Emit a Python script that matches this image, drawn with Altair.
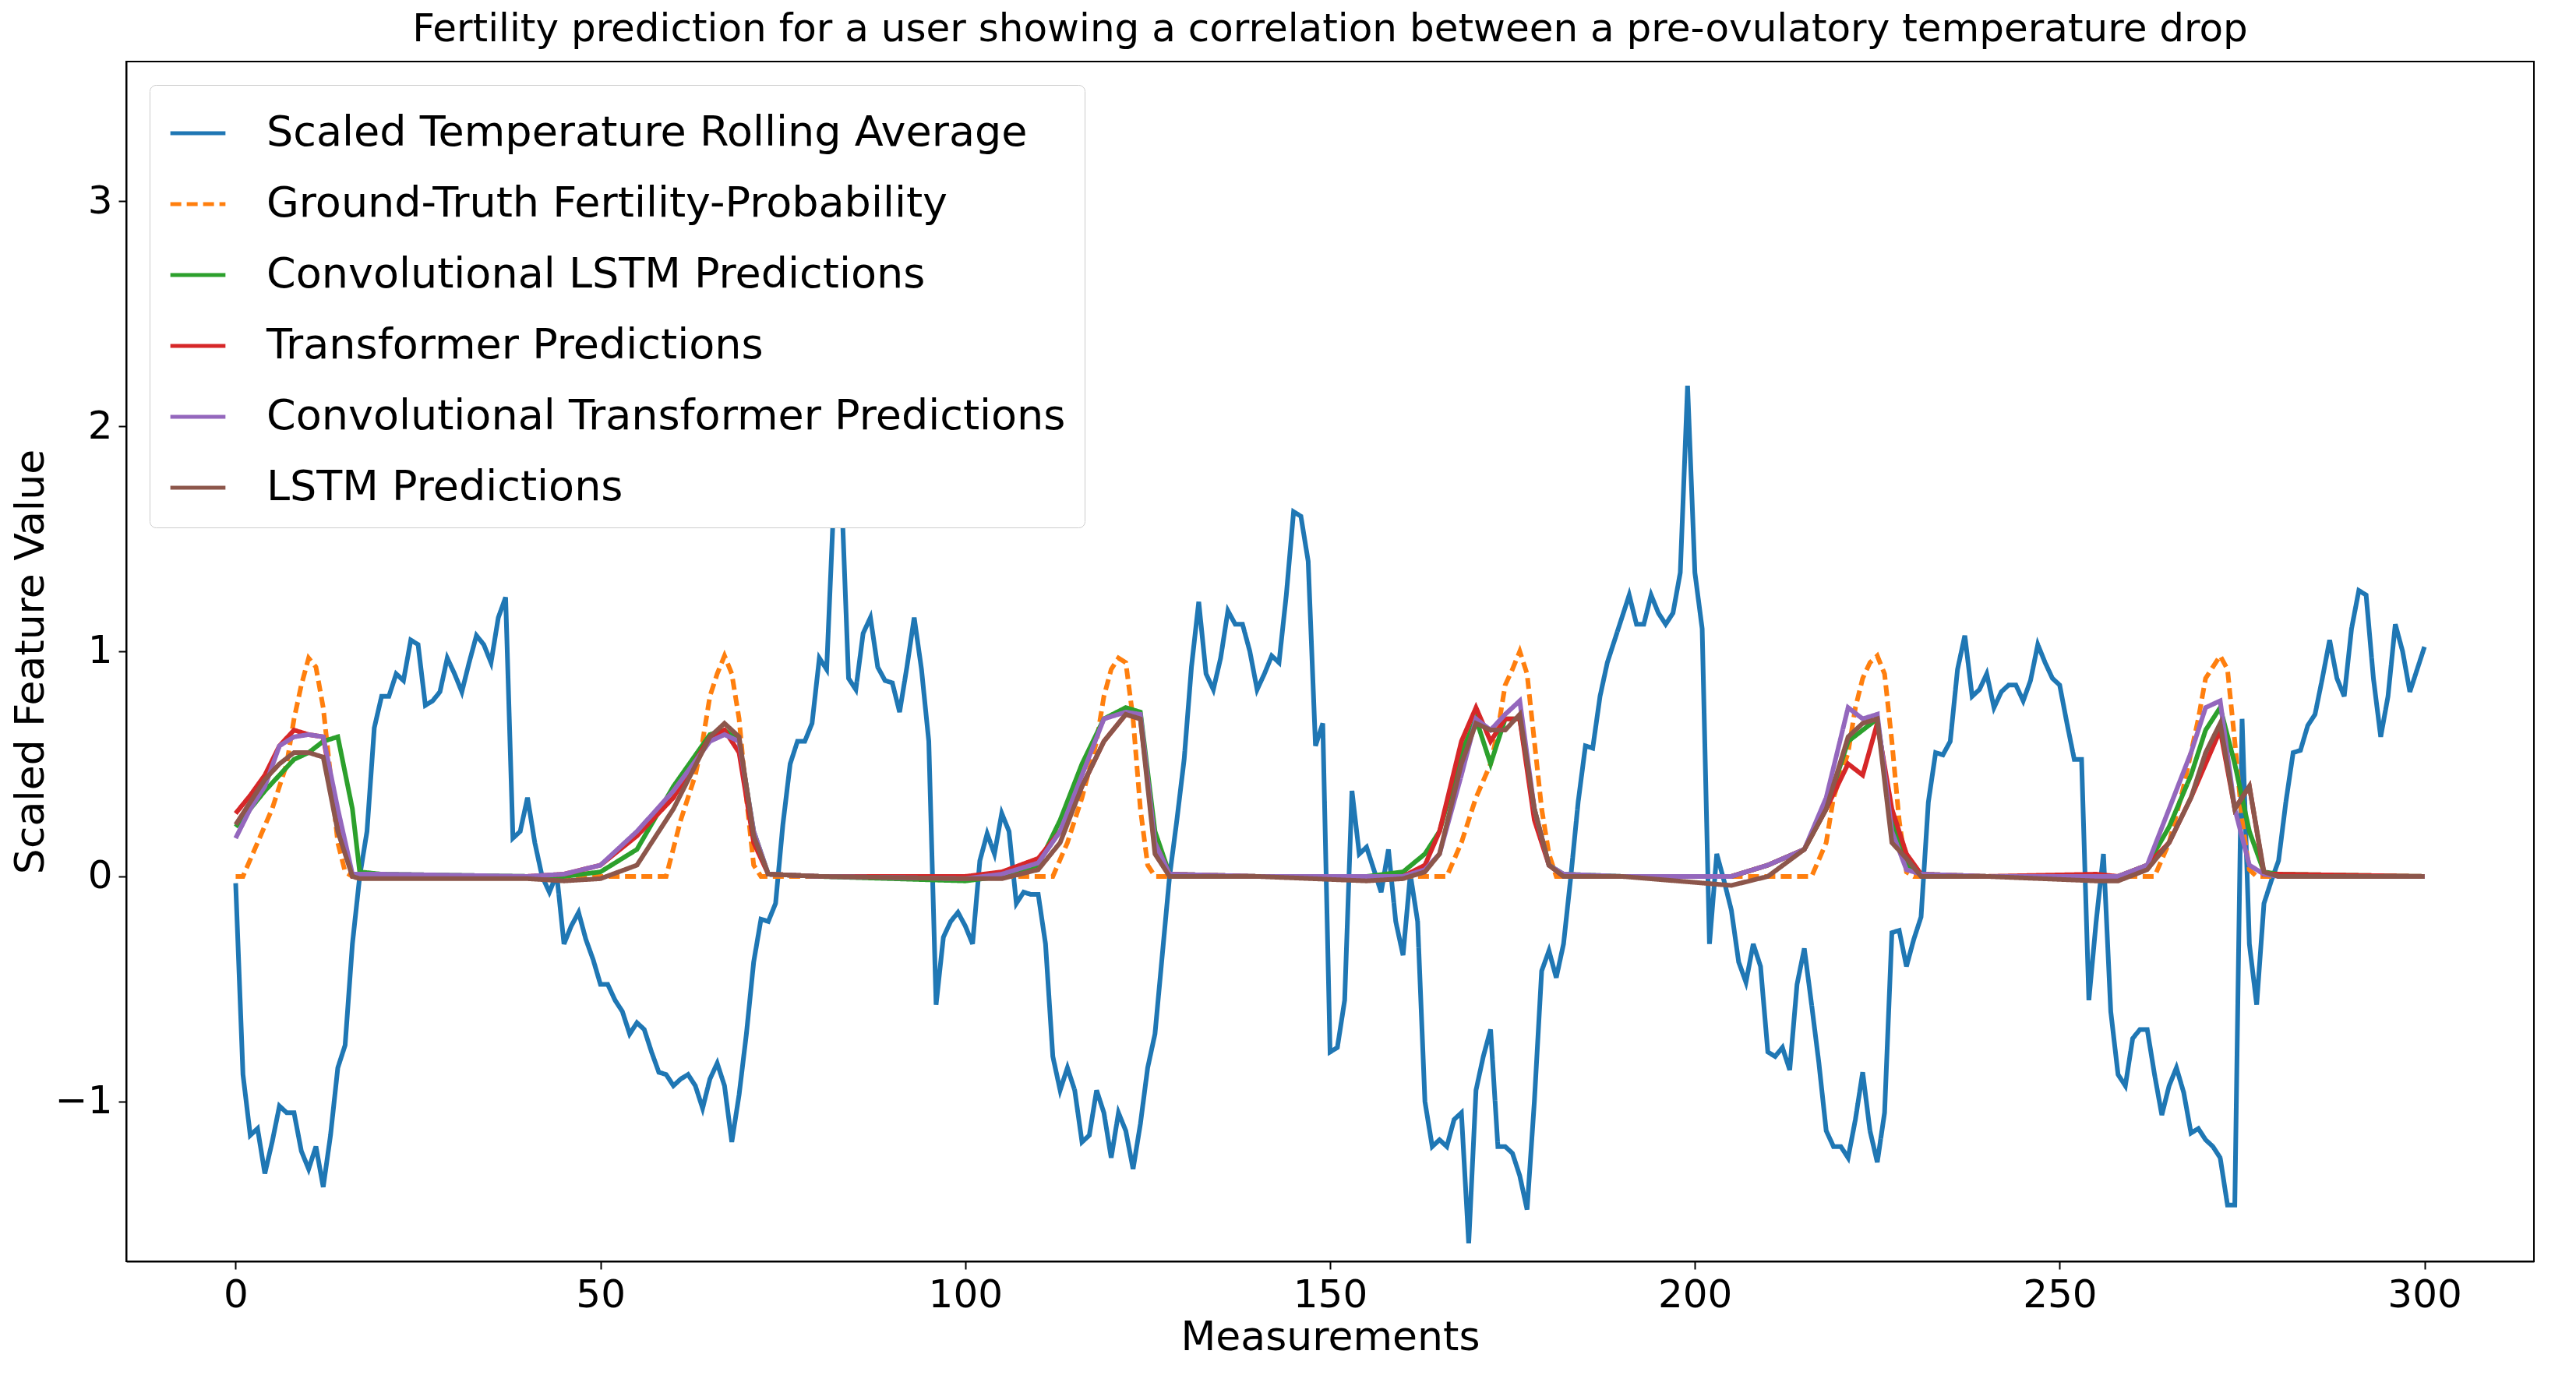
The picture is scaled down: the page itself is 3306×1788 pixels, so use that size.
import altair as alt
import pandas as pd

blue = [-0.03,-0.88,-1.15,-1.12,-1.32,-1.18,-1.02,-1.05,-1.05,-1.22,-1.3,-1.2,-1.38,-1.15,-0.85,-0.75,-0.3,0.0,0.2,0.66,
0.8,0.8,0.9,0.87,1.05,1.03,0.76,0.78,0.82,0.97,0.9,0.82,0.95,1.07,1.03,0.95,1.15,1.24,0.17,0.2,
0.35,0.15,0.0,-0.07,0.01,-0.3,-0.22,-0.16,-0.28,-0.37,-0.48,-0.48,-0.55,-0.6,-0.7,-0.65,-0.68,-0.78,-0.87,-0.88,
-0.93,-0.9,-0.88,-0.93,-1.03,-0.9,-0.83,-0.93,-1.18,-0.97,-0.7,-0.38,-0.19,-0.2,-0.12,0.23,0.5,0.6,0.6,0.68,
0.97,0.92,1.68,1.74,0.88,0.83,1.08,1.15,0.93,0.87,0.86,0.73,0.93,1.15,0.92,0.6,-0.57,-0.27,-0.2,-0.16,
-0.22,-0.3,0.07,0.19,0.1,0.28,0.2,-0.12,-0.07,-0.08,-0.08,-0.3,-0.8,-0.95,-0.85,-0.95,-1.18,-1.15,-0.95,-1.05,
-1.25,-1.05,-1.13,-1.3,-1.1,-0.85,-0.7,-0.35,0.0,0.25,0.52,0.93,1.22,0.9,0.83,0.97,1.18,1.12,1.12,1.0,
0.83,0.9,0.98,0.95,1.25,1.62,1.6,1.4,0.58,0.68,-0.78,-0.76,-0.55,0.38,0.1,0.13,0.03,-0.07,0.12,-0.2,
-0.35,0.01,-0.2,-1.0,-1.2,-1.17,-1.2,-1.08,-1.05,-1.63,-0.95,-0.8,-0.68,-1.2,-1.2,-1.23,-1.33,-1.48,-1.0,-0.42,
-0.33,-0.45,-0.3,0.0,0.33,0.58,0.57,0.8,0.95,1.05,1.15,1.25,1.12,1.12,1.25,1.17,1.12,1.17,1.35,2.18,
1.35,1.1,-0.3,0.1,-0.02,-0.15,-0.38,-0.47,-0.3,-0.4,-0.78,-0.8,-0.76,-0.86,-0.48,-0.32,-0.57,-0.83,-1.13,-1.2,
-1.2,-1.25,-1.08,-0.87,-1.13,-1.27,-1.05,-0.25,-0.24,-0.4,-0.28,-0.18,0.33,0.55,0.54,0.6,0.92,1.07,0.8,0.83,
0.9,0.75,0.82,0.85,0.85,0.78,0.87,1.03,0.95,0.88,0.85,0.68,0.52,0.52,-0.55,-0.2,0.1,-0.6,-0.88,-0.93,
-0.72,-0.68,-0.68,-0.88,-1.06,-0.93,-0.85,-0.96,-1.14,-1.12,-1.17,-1.2,-1.25,-1.46,-1.46,0.7,-0.3,-0.57,-0.12,-0.02,
0.07,0.33,0.55,0.56,0.67,0.72,0.88,1.05,0.88,0.8,1.1,1.27,1.25,0.88,0.62,0.8,1.12,1.0,0.82,0.92,1.02]
blue_t = list(range(len(blue)))

gt_t = [0,1,3,5,7,8,9,10,11,12,13,14,15,16,
        58,59,61,63,64,65,66,67,68,69,70,71,72,
        112,114,116,118,119,120,121,122,123,124,125,126,
        165,166,168,170,172,173,174,175,176,177,178,179,180,181,
        216,218,219,221,222,223,224,225,226,227,228,229,230,
        263,265,267,268,269,270,271,272,273,274,275,276,277,300]
gt_v = [0,0,0.15,0.3,0.5,0.7,0.85,0.97,0.93,0.75,0.45,0.15,0.02,0,
        0,0,0.25,0.45,0.6,0.8,0.9,0.98,0.9,0.7,0.35,0.05,0,
        0,0.15,0.35,0.6,0.8,0.92,0.97,0.95,0.7,0.3,0.05,0,
        0,0,0.15,0.35,0.5,0.65,0.85,0.92,1.0,0.9,0.6,0.3,0.1,0,
        0,0.15,0.35,0.55,0.75,0.88,0.95,0.98,0.9,0.6,0.25,0.02,0,
        0,0.15,0.4,0.55,0.7,0.88,0.93,0.98,0.92,0.6,0.25,0.03,0,0]

pt = [0,2,4,6,8,10,12,14,16,17, 20,40, 45,50,55,60,65,67,69,71,73, 80,100,
      105,110,113,116,119,122,124,126,128, 140,155,160,163,165,168,170,172,174,176,178,180,182,
      190, 205,210,215,218,221,223,225,227,229,231, 240,
      255,258,262,265,268,270,272,274,276,278,280, 300]
conv_lstm = [0.22,0.3,0.38,0.45,0.52,0.55,0.6,0.62,0.3,0.02, 0.01,0.0,
             0.0,0.02,0.12,0.4,0.63,0.65,0.6,0.2,0.01, 0.0,-0.02,
             0.0,0.05,0.25,0.5,0.7,0.75,0.73,0.2,0.01, 0.0,
             0.0,0.02,0.1,0.2,0.55,0.7,0.5,0.7,0.7,0.3,0.05,0.01, 0.0,
             0.0,0.05,0.12,0.3,0.6,0.65,0.7,0.25,0.05,0.01, 0.0,
             0.0,0.0,0.05,0.22,0.45,0.65,0.75,0.5,0.2,0.02,0.01, 0.0]
transformer = [0.28,0.36,0.45,0.58,0.65,0.63,0.62,0.25,0.0,0.0, 0.0,0.0,
               0.01,0.05,0.18,0.35,0.62,0.65,0.55,0.15,0.01, 0.0,0.0,
               0.02,0.08,0.2,0.4,0.6,0.72,0.7,0.15,0.01, 0.0,
               0.0,0.0,0.05,0.2,0.6,0.75,0.6,0.7,0.7,0.25,0.05,0.0, 0.0,
               0.0,0.05,0.12,0.3,0.5,0.45,0.68,0.3,0.1,0.01, 0.0,
               0.01,0.0,0.05,0.15,0.35,0.5,0.65,0.3,0.4,0.01,0.01, 0.0]
conv_transformer = [0.17,0.3,0.4,0.58,0.62,0.63,0.62,0.3,0.01,0.01, 0.01,0.0,
                    0.01,0.05,0.2,0.38,0.6,0.63,0.6,0.2,0.01, 0.0,-0.01,
                    0.01,0.06,0.2,0.45,0.7,0.73,0.72,0.15,0.01, 0.0,
                    0.0,0.0,0.03,0.1,0.45,0.7,0.65,0.72,0.78,0.3,0.05,0.01, 0.0,
                    0.0,0.05,0.12,0.35,0.75,0.7,0.72,0.2,0.03,0.01, 0.0,
                    0.0,0.0,0.05,0.3,0.55,0.75,0.78,0.3,0.05,0.01,0.0, 0.0]
lstm = [0.23,0.33,0.43,0.5,0.55,0.55,0.53,0.2,0.0,-0.01, -0.01,-0.01,
        -0.02,-0.01,0.05,0.3,0.62,0.68,0.62,0.18,0.01, 0.0,-0.01,
        -0.01,0.03,0.15,0.4,0.6,0.72,0.7,0.1,0.0, 0.0,
        -0.02,-0.01,0.02,0.1,0.5,0.68,0.65,0.65,0.72,0.3,0.05,0.0, 0.0,
        -0.04,0.0,0.12,0.3,0.62,0.68,0.7,0.15,0.08,0.0, 0.0,
        -0.02,-0.02,0.03,0.15,0.35,0.55,0.68,0.3,0.4,0.02,0.0, 0.0]

names = ["Scaled Temperature Rolling Average", "Ground-Truth Fertility-Probability",
         "Convolutional LSTM Predictions", "Transformer Predictions",
         "Convolutional Transformer Predictions", "LSTM Predictions"]
colors = ["#1f77b4", "#ff7f0e", "#2ca02c", "#d62728", "#9467bd", "#8c564b"]

rows = []
def add(name, ts, vs, k):
    for t, v in zip(ts, vs):
        rows.append({"x": t, "y": v, "series": name, "k": k})
add(names[0], blue_t, blue, 0)
add(names[1], gt_t, gt_v, 1)
for i, s in enumerate([conv_lstm, transformer, conv_transformer, lstm]):
    add(names[i + 2], pt, s, i + 2)
df = pd.DataFrame(rows)

chart = alt.Chart(df).mark_line(strokeWidth=6).encode(
    x=alt.X("x:Q", scale=alt.Scale(domain=[-15, 315], nice=False, zero=False),
            axis=alt.Axis(values=[0, 50, 100, 150, 200, 250, 300], title="Measurements")),
    y=alt.Y("y:Q", scale=alt.Scale(domain=[-1.71, 3.62], nice=False),
            axis=alt.Axis(values=[-1, 0, 1, 2, 3], title="Scaled Feature Value")),
    color=alt.Color("series:N", sort=names,
                    scale=alt.Scale(domain=names, range=colors),
                    legend=alt.Legend(title=None, orient="none", legendX=30, legendY=30,
                                      symbolType="stroke", symbolSize=5000, symbolStrokeWidth=5,
                                      labelFontSize=54, labelLimit=2500, rowPadding=26,
                                      padding=24, strokeColor="#cccccc", fillColor="white",
                                      cornerRadius=8, labelOffset=50)),
    strokeDash=alt.StrokeDash("series:N", sort=names,
                              scale=alt.Scale(domain=names,
                                              range=[[1, 0], [14, 7], [1, 0], [1, 0], [1, 0], [1, 0]])),
    strokeOpacity=alt.StrokeOpacity("series:N", sort=names,
                        scale=alt.Scale(domain=names, range=[1, 1, 0.7, 0.7, 0.7, 0.7]), legend=None),
    order=alt.Order("k:Q"),
    detail="series:N",
).properties(
    width=3090, height=1540,
    title=alt.Title("Fertility prediction for a user showing a correlation between a pre-ovulatory temperature drop",
                    fontSize=50, fontWeight="normal", font="DejaVu Sans", offset=16),
).configure_axis(
    labelFontSize=50, titleFontSize=52, titleFontWeight="normal", labelFont="DejaVu Sans",
    titleFont="DejaVu Sans", grid=False, domainColor="black", tickColor="black",
    labelColor="black", titleColor="black", tickSize=10, tickWidth=2, domainWidth=2,
    labelPadding=8,
).configure_legend(labelFont="DejaVu Sans", labelColor="black"
).configure_view(stroke="black", strokeWidth=2)

chart.save("out.html", embed_options={"renderer": "svg", "actions": False})
